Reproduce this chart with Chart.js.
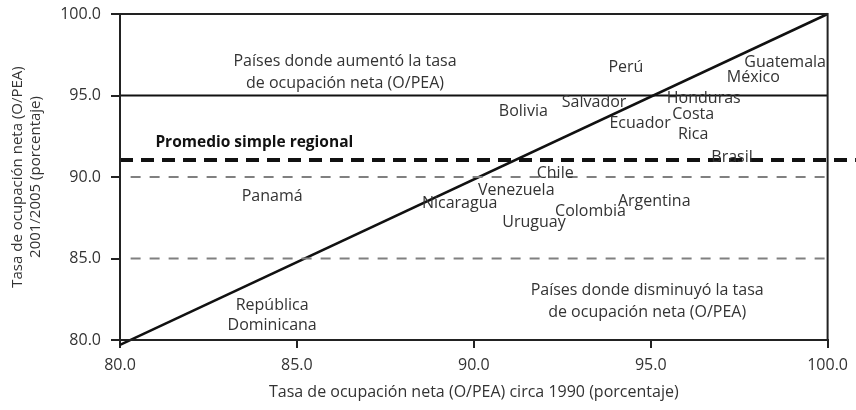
<!DOCTYPE html>
<html>
<head>
<meta charset="utf-8">
<script src="https://cdn.jsdelivr.net/npm/chart.js@4"></script>
<style>
  html, body { margin: 0; padding: 0; background: #fff; }
  #wrap { width: 856px; height: 410px; }
</style>
</head>
<body>
<div id="wrap"><canvas id="grafico"></canvas></div>
<script>
// Datos
const paises = ['Perú', 'Guatemala', 'México', 'Salvador', 'Honduras', 'Bolivia', 'Ecuador',
  'Costa\nRica', 'Brasil', 'Chile', 'Venezuela', 'Nicaragua', 'Argentina', 'Colombia',
  'Uruguay', 'Panamá', 'República\nDominicana'];
const tasa1990 = [94.3, 98.8, 97.9, 93.4, 96.5, 91.4, 94.7, 96.2, 97.3, 92.3, 91.2, 89.6, 95.1, 93.3, 91.7, 84.3, 84.3];
const tasa2005 = [96.7, 97.0, 96.1, 94.6, 94.8, 94.0, 93.3, 93.2, 91.2, 90.2, 89.2, 88.4, 88.5, 87.9, 87.2, 88.8, 81.5];

const promedioRegional = 91.05;
const ticksEje = [80, 85, 90, 95, 100];

const fuente = "'Open Sans', 'Noto Sans', sans-serif";
const colorTexto = '#333';

// Etiquetas de países y textos de zonas
const etiquetasPlugin = {
  id: 'etiquetas',
  afterDatasetsDraw(chart) {
    const { ctx, scales: { x, y }, chartArea } = chart;
    ctx.save();
    // marco
    ctx.strokeStyle = '#222';
    ctx.lineWidth = 2;
    ctx.strokeRect(chartArea.left, chartArea.top, chartArea.right - chartArea.left, chartArea.bottom - chartArea.top);

    ctx.fillStyle = colorTexto;
    ctx.font = '16px ' + fuente;
    ctx.textAlign = 'center';
    ctx.textBaseline = 'middle';
    paises.forEach((nombre, i) => {
      const lineas = nombre.split('\n');
      const px = x.getPixelForValue(tasa1990[i]);
      const py = y.getPixelForValue(tasa2005[i]);
      lineas.forEach((l, j) => {
        ctx.fillText(l, px, py + (j - (lineas.length - 1) / 2) * 20);
      });
    });

    // textos de zonas
    ctx.fillText('Países donde aumentó la tasa', x.getPixelForValue(86.36), y.getPixelForValue(97.1));
    ctx.fillText('de ocupación neta (O/PEA)', x.getPixelForValue(86.36), y.getPixelForValue(95.75));
    ctx.fillText('Países donde disminuyó la tasa', x.getPixelForValue(94.9), y.getPixelForValue(83.07));
    ctx.fillText('de ocupación neta (O/PEA)', x.getPixelForValue(94.9), y.getPixelForValue(81.7));

    ctx.font = 'bold 15.5px ' + fuente;
    ctx.fillStyle = '#111';
    ctx.textAlign = 'left';
    ctx.fillText('Promedio simple regional', x.getPixelForValue(81.0), y.getPixelForValue(92.1));
    ctx.restore();
  }
};

new Chart(document.getElementById('grafico'), {
  type: 'scatter',
  data: {
    datasets: [
      {
        label: 'Promedio',
        data: [{ x: 80, y: promedioRegional }, { x: 100.8, y: promedioRegional }],
        showLine: true,
        borderColor: '#111',
        borderWidth: 4,
        borderDash: [13, 8],
        pointRadius: 0,
        clip: false
      },
      {
        label: '90',
        data: [{ x: 80.3, y: 90 }, { x: 100, y: 90 }],
        showLine: true,
        borderColor: '#808080',
        borderWidth: 2,
        borderDash: [10, 9],
        pointRadius: 0
      },
      {
        label: '85',
        data: [{ x: 80.3, y: 85 }, { x: 100, y: 85 }],
        showLine: true,
        borderColor: '#808080',
        borderWidth: 2,
        borderDash: [10, 9],
        pointRadius: 0
      },
      {
        label: '95',
        data: [{ x: 80, y: 95 }, { x: 100, y: 95 }],
        showLine: true,
        borderColor: '#111',
        borderWidth: 2,
        pointRadius: 0
      },
      {
        label: 'Diagonal',
        data: [{ x: 80, y: 79.7 }, { x: 100, y: 100 }],
        showLine: true,
        borderColor: '#111',
        borderWidth: 2.5,
        pointRadius: 0,
        clip: false
      },
      {
        label: 'Países',
        data: tasa1990.map((v, i) => ({ x: v, y: tasa2005[i] })),
        pointRadius: 0
      }
    ]
  },
  options: {
    responsive: true,
    maintainAspectRatio: false,
    animation: false,
    layout: { padding: { top: 14, right: 28, left: 0, bottom: 0 } },
    plugins: {
      legend: { display: false },
      tooltip: { enabled: false }
    },
    scales: {
      x: {
        type: 'linear',
        min: 80,
        max: 100,
        afterFit: (scale) => { scale.height = 70; },
        afterBuildTicks: (scale) => { scale.ticks = ticksEje.map(v => ({ value: v })); },
        ticks: {
          color: colorTexto,
          padding: 8,
          font: { family: fuente, size: 16 },
          callback: (v) => v.toFixed(1)
        },
        grid: { drawOnChartArea: false, drawTicks: true, tickLength: 8, color: '#222', lineWidth: 2 },
        border: { display: true, color: '#222', width: 2 },
        title: {
          display: true,
          text: 'Tasa de ocupación neta (O/PEA) circa 1990 (porcentaje)',
          color: colorTexto,
          font: { family: fuente, size: 16 },
          padding: { top: 6, bottom: 8 }
        }
      },
      y: {
        type: 'linear',
        min: 80,
        max: 100,
        afterFit: (scale) => {
          scale.width = 120;
          scale.paddingTop = 0;
          scale.paddingBottom = 0;
        },
        afterBuildTicks: (scale) => { scale.ticks = ticksEje.map(v => ({ value: v })); },
        ticks: {
          color: colorTexto,
          padding: 10,
          font: { family: fuente, size: 16 },
          callback: (v) => v.toFixed(1)
        },
        grid: { drawOnChartArea: false, drawTicks: true, tickLength: 9, color: '#222', lineWidth: 2 },
        border: { display: true, color: '#222', width: 2 },
        title: {
          display: true,
          text: ['Tasa de ocupación neta (O/PEA)', '2001/2005 (porcentaje)'],
          color: colorTexto,
          font: { family: fuente, size: 15, lineHeight: 1.2 },
          padding: { top: 9, bottom: 0 }
        }
      }
    }
  },
  plugins: [etiquetasPlugin]
});
</script>
</body>
</html>
